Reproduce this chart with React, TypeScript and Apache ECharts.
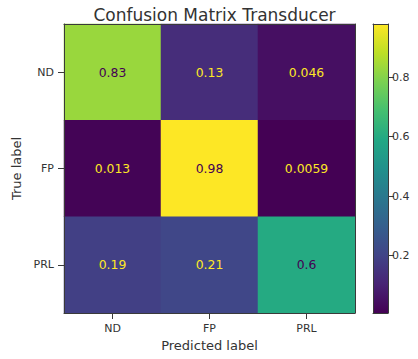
import React, { useEffect, useRef } from "react";
import * as echarts from "echarts";

const predictedLabels = ["ND", "FP", "PRL"];
const trueLabels = ["ND", "FP", "PRL"];
const rowND = [0.83, 0.13, 0.046];
const rowFP = [0.013, 0.98, 0.0059];
const rowPRL = [0.19, 0.21, 0.6];
const colorbarTicks = [0.2, 0.4, 0.6, 0.8];
const titleText = "Confusion Matrix Transducer";

const viridis = [
  "#440154", "#482475", "#414487", "#355f8d", "#2a788e",
  "#21918c", "#22a884", "#44bf70", "#7ad151", "#bddf26", "#fde725",
];

const FONT = "DejaVu Sans";
const TEXT = "#333333";
const FRAME = "#3a3a3a";

export default function App() {
  const ref = useRef<HTMLDivElement>(null);
  useEffect(() => {
    if (!ref.current) return;
    const chart = echarts.init(ref.current, undefined, { renderer: "svg" });
    const rows = [rowND, rowFP, rowPRL];
    const all = rows.flat();
    const vmin = Math.min(...all);
    const vmax = Math.max(...all);
    const thresh = (vmin + vmax) / 2;
    const data: any[] = [];
    rows.forEach((row, yi) => {
      row.forEach((v, xi) => {
        data.push({
          value: [xi, yi, v],
          label: { color: v > thresh ? viridis[0] : viridis[viridis.length - 1] },
        });
      });
    });

    const frameAxis = (extra: any) => ({
      gridIndex: 0,
      axisLine: { show: true, lineStyle: { color: FRAME, width: 1 } },
      axisTick: { show: false },
      axisLabel: { show: false },
      splitLine: { show: false },
      z: 5,
      ...extra,
    });

    const gradStops = viridis.map((c, i) => ({ offset: i / (viridis.length - 1), color: c }));

    chart.setOption({
      animation: false,
      backgroundColor: "#ffffff",
      textStyle: { fontFamily: FONT },
      title: {
        text: titleText,
        left: 209.5,
        textAlign: "center",
        top: 1,
        textStyle: { fontFamily: FONT, fontSize: 17, fontWeight: "normal", color: TEXT },
      },
      grid: [
        { left: 64, top: 24, width: 291, height: 289, outerBoundsMode: "none", containLabel: false },
        { left: 373, top: 24, width: 15, height: 289, outerBoundsMode: "none", containLabel: false },
      ],
      visualMap: {
        show: false,
        type: "continuous",
        min: vmin,
        max: vmax,
        seriesIndex: 0,
        dimension: 2,
        inRange: { color: viridis },
      },
      xAxis: [
        {
          type: "category",
          gridIndex: 0,
          data: predictedLabels,
          position: "bottom",
          name: "Predicted label",
          nameLocation: "middle",
          nameGap: 26,
          nameTextStyle: { fontFamily: FONT, fontSize: 13, color: TEXT },
          axisLine: { show: true, lineStyle: { color: FRAME, width: 1 } },
          axisTick: { show: true, alignWithLabel: true, length: 6, lineStyle: { color: FRAME } },
          axisLabel: { fontFamily: FONT, fontSize: 11, color: TEXT, margin: 10 },
          splitLine: { show: false },
          z: 5,
        },
        frameAxis({ type: "category", data: predictedLabels, position: "top" }),
        {
          type: "category",
          gridIndex: 1,
          data: [""],
          position: "bottom",
          axisLine: { show: true, lineStyle: { color: FRAME, width: 1 } },
          axisTick: { show: false },
          axisLabel: { show: false },
          z: 5,
        },
        {
          type: "category",
          gridIndex: 1,
          data: [""],
          position: "top",
          axisLine: { show: true, lineStyle: { color: FRAME, width: 1 } },
          axisTick: { show: false },
          axisLabel: { show: false },
          z: 5,
        },
      ],
      yAxis: [
        {
          type: "category",
          gridIndex: 0,
          data: trueLabels,
          inverse: true,
          position: "left",
          name: "True label",
          nameLocation: "middle",
          nameGap: 37,
          nameRotate: 90,
          nameTextStyle: { fontFamily: FONT, fontSize: 13, color: TEXT },
          axisLine: { show: true, lineStyle: { color: FRAME, width: 1 } },
          axisTick: { show: true, alignWithLabel: true, length: 6, lineStyle: { color: FRAME } },
          axisLabel: { fontFamily: FONT, fontSize: 11, color: TEXT, margin: 10 },
          splitLine: { show: false },
          z: 5,
        },
        frameAxis({ type: "category", data: trueLabels, inverse: true, position: "right" }),
        {
          type: "value",
          gridIndex: 1,
          min: vmin,
          max: vmax,
          position: "right",
          axisLine: { show: true, lineStyle: { color: FRAME, width: 1 } },
          axisTick: {
            show: true,
            length: 6,
            inside: false,
            customValues: colorbarTicks,
            lineStyle: { color: FRAME },
          },
          axisLabel: {
            fontFamily: FONT,
            fontSize: 11,
            color: TEXT,
            margin: 4,
            customValues: colorbarTicks,
            formatter: (v: number) => v.toFixed(1),
          },
          splitLine: { show: false },
          z: 5,
        },
        {
          type: "value",
          gridIndex: 1,
          min: vmin,
          max: vmax,
          position: "left",
          axisLine: { show: true, lineStyle: { color: FRAME, width: 1 } },
          axisTick: { show: false },
          axisLabel: { show: false },
          splitLine: { show: false },
          z: 5,
        },
      ],
      series: [
        {
          type: "heatmap",
          xAxisIndex: 0,
          yAxisIndex: 0,
          data,
          label: {
            show: true,
            fontFamily: FONT,
            fontSize: 12.4,
            formatter: (p: any) => String(p.value[2]),
          },
          itemStyle: { borderWidth: 0 },
          emphasis: { disabled: true },
        },
        {
          type: "custom",
          xAxisIndex: 2,
          yAxisIndex: 2,
          data: [[0, vmin, vmax]],
          renderItem: (params: any, api: any) => {
            const top = api.coord([0, api.value(2)]);
            const bottom = api.coord([0, api.value(1)]);
            const cs = params.coordSys;
            return {
              type: "rect",
              shape: { x: cs.x, y: top[1], width: cs.width, height: bottom[1] - top[1] },
              style: {
                fill: new echarts.graphic.LinearGradient(0, 1, 0, 0, gradStops),
              },
            };
          },
        },
      ],
    });
    return () => chart.dispose();
  }, []);
  return (
    <div
      ref={ref}
      style={{ position: "fixed", left: 0, top: 0, width: 418, height: 359 }}
    />
  );
}
